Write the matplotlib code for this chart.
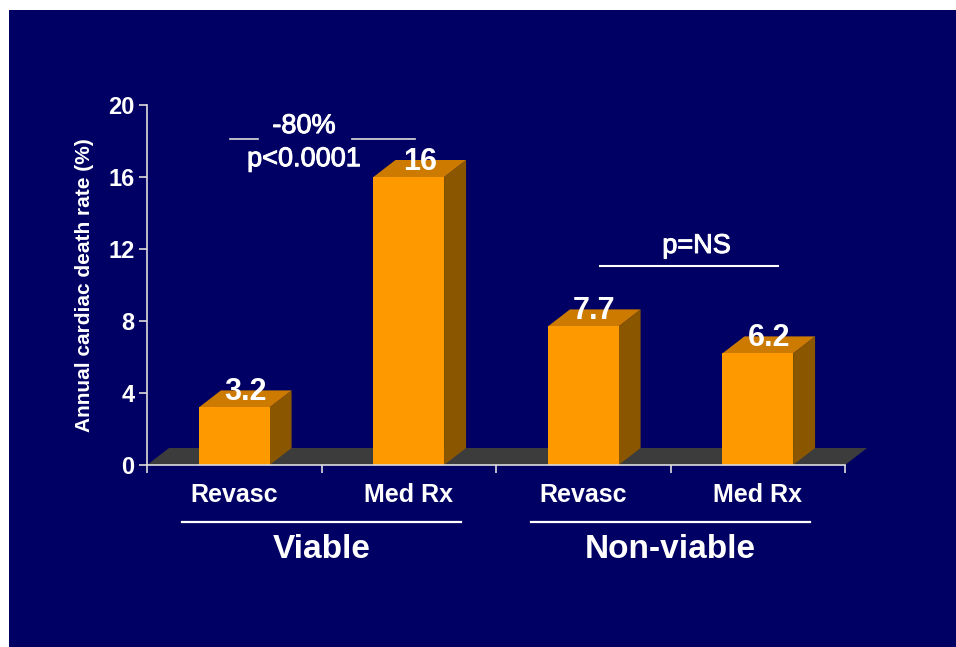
import matplotlib
matplotlib.use("Agg")
import matplotlib.pyplot as plt
from matplotlib.patches import Polygon, Rectangle
from matplotlib.lines import Line2D
import matplotlib.transforms as mtransforms
import matplotlib.patheffects as pe

# Data
categories = ["Revasc", "Med Rx", "Revasc", "Med Rx"]
groups = ["Viable", "Non-viable"]
death_rate = [3.2, 16, 7.7, 6.2]
value_labels = ["3.2", "16", "7.7", "6.2"]
y_ticks = [0, 4, 8, 12, 16, 20]

NAVY = "#000064"
FRONT = "#FF9900"
TOP = "#CC7A00"
SIDE = "#8A5700"
FLOOR = "#3C3C3C"
WHITE = "white"
FONT = "Liberation Sans"

W, H = 956, 647
fig = plt.figure(figsize=(W / 100, H / 100), dpi=100, facecolor="white")
fig.patches.append(Rectangle((9 / W, 0), 1 - 9 / W, 1 - 10 / H,
                             transform=fig.transFigure, facecolor=NAVY,
                             edgecolor="none", zorder=-10))

ax_l, ax_r, ax_t, ax_b = 147, 845, 105, 465
ax = fig.add_axes([ax_l / W, 1 - ax_b / H, (ax_r - ax_l) / W, (ax_b - ax_t) / H])
ax.set_zorder(1)
ax.set_facecolor("none")
ax.set_xlim(0, len(categories))
ax.set_ylim(0, 20)

# depth of the 3-D extrusion, in pixels -> data units
depth_px = (22, 17)
ppx = (ax_r - ax_l) / len(categories)
ppy = (ax_b - ax_t) / 20
ddx, ddy = depth_px[0] / ppx, depth_px[1] / ppy

# floor
floor = Polygon([(0, 0), (len(categories), 0),
                 (len(categories) + ddx, ddy), (ddx, ddy)],
                closed=True, facecolor=FLOOR, edgecolor="none", zorder=1,
                clip_on=False)
ax.add_patch(floor)

bar_w = 0.405
for i, v in enumerate(death_rate):
    c = i + 0.5
    x0, x1 = c - bar_w / 2, c + bar_w / 2
    side = Polygon([(x1, 0), (x1 + ddx, ddy), (x1 + ddx, v + ddy), (x1, v)],
                   closed=True, facecolor=SIDE, edgecolor="none", zorder=2,
                   clip_on=False)
    top = Polygon([(x0, v), (x1, v), (x1 + ddx, v + ddy), (x0 + ddx, v + ddy)],
                  closed=True, facecolor=TOP, edgecolor="none", zorder=2,
                  clip_on=False)
    front = Rectangle((x0, 0), bar_w, v, facecolor=FRONT, edgecolor="none",
                      zorder=3, clip_on=False)
    for p in (side, top, front):
        ax.add_patch(p)
    ax.annotate(value_labels[i], (c, v), xytext=(depth_px[0] / 2 * 0.72, 5),
                textcoords="offset points", ha="center", va="baseline",
                color=WHITE, fontsize=22, fontweight="bold", family=FONT,
                zorder=5)

# axes styling
for s in ("top", "right"):
    ax.spines[s].set_visible(False)
for s in ("left", "bottom"):
    ax.spines[s].set_color("#DDDDDD")
    ax.spines[s].set_linewidth(1.2)
    ax.spines[s].set_zorder(4)
ax.set_yticks(y_ticks)
ax.set_yticklabels([str(t) for t in y_ticks])
ax.set_xticks(range(len(categories) + 1))
ax.set_xticklabels([])
ax.tick_params(axis="both", colors="#DDDDDD", length=6, width=1.2,
               direction="out")
ax.tick_params(axis="y", labelcolor=WHITE, labelsize=17, pad=3)
for lab in ax.get_yticklabels():
    lab.set_fontweight("bold")
    lab.set_family(FONT)

ax.text(-62 / (ax_r - ax_l), 0.5, "Annual cardiac death rate (%)",
        transform=ax.transAxes, rotation=90, ha="center", va="center",
        color=WHITE, fontsize=15, fontweight="bold", family=FONT)

# category and group labels below the axis
blend = mtransforms.blended_transform_factory(ax.transData, ax.transAxes)
for i, name in enumerate(categories):
    ax.text(i + 0.5, -30 / 360, name, transform=blend, ha="center",
            va="center", color=WHITE, fontsize=18, fontweight="bold",
            family=FONT, clip_on=False)
for g, name in enumerate(groups):
    cx = 2 * g + 1
    ax.add_line(Line2D([cx - 0.8, cx + 0.8], [-57 / 360, -57 / 360],
                       transform=blend, color=WHITE, lw=1.6, clip_on=False))
    ax.text(cx, -84 / 360, name, transform=blend, ha="center", va="center",
            color=WHITE, fontsize=24, fontweight="bold", family=FONT,
            clip_on=False)

# significance annotations
thick = [pe.withStroke(linewidth=0.7, foreground=WHITE)]
txt = dict(color=WHITE, fontsize=19.5, family=FONT, ha="center",
           va="baseline", clip_on=False, path_effects=thick)
ax.text(0.9, 18.44, "-80%", **txt)
ax.text(0.9, 16.6, "p<0.0001", **txt)
ax.plot([0.476, 0.636], [18.11, 18.11], color="#DDDDDD", lw=1.2, clip_on=False)
ax.plot([1.175, 1.536], [18.11, 18.11], color="#DDDDDD", lw=1.2, clip_on=False)
ax.text(3.15, 11.78, "p=NS", **txt)
ax.plot([2.596, 3.616], [11.06, 11.06], color=WHITE, lw=1.5, clip_on=False)

fig.savefig("out.png", dpi=100, facecolor=fig.get_facecolor())
